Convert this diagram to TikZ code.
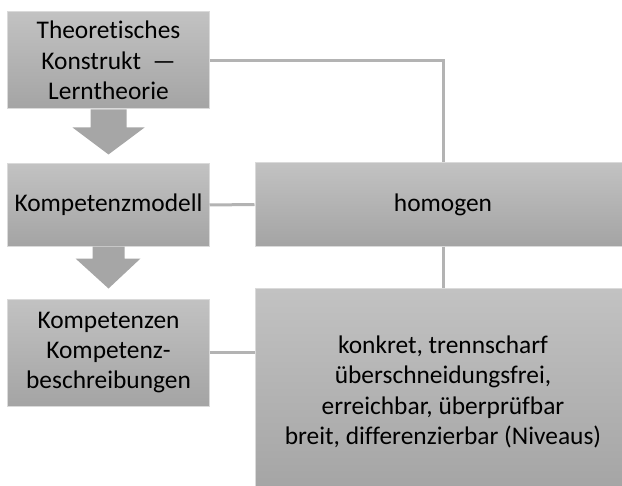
\documentclass[tikz,border=0pt]{standalone}
\usepackage{fontspec}
\setmainfont{Carlito}[Ligatures=NoCommon]
\usetikzlibrary{calc}
\definecolor{boxtop}{HTML}{C2C2C2}
\definecolor{boxbot}{HTML}{A4A4A4}
\definecolor{boxrim}{HTML}{DADADA}
\definecolor{linkgray}{HTML}{B3B3B3}
\definecolor{arrowgray}{HTML}{A6A6A6}
\tikzset{
  card/.style={rectangle, inner sep=0pt, top color=boxtop, bottom color=boxbot,
    draw=boxrim, line width=1bp, align=center, text=black,
    font=\fontsize{25.5}{30.5}\selectfont},
  link/.style={draw=linkgray, line width=3bp},
  blockarrow/.style={fill=arrowgray, draw=none}
}
\begin{document}
\begin{tikzpicture}[x=1bp, y=-1bp]
\clip (0,0) rectangle (622,486);
\fill[white] (0,0) rectangle (622,486);

% left column
\node[card, minimum width=201bp, minimum height=97bp] (theo) at (108.5,60.5)
  {Theoretisches\\Konstrukt\ \ —\\Lerntheorie};
\node[card, minimum width=201bp, minimum height=82bp] (modell) at (108.5,205)
  {Kompetenzmodell};
\node[card, minimum width=201bp, minimum height=107bp] (kompet) at (108.5,352.5)
  {Kompetenzen\\Kompetenz-\\beschreibungen};

% right column
\node[card, minimum width=376bp, minimum height=83bp] (homo) at (443,204.5)
  {homogen};
\node[card, minimum width=376bp, minimum height=206bp] (krit) at (443,392)
  {konkret, trennscharf\\überschneidungsfrei,\\erreichbar, überprüfbar\\breit, differenzierbar (Niveaus)};

% block arrows between the left boxes
\fill[blockarrow]
  ($(theo.south)+(-18,0)$) -- ($(theo.south)+(18,0)$) -- ($(theo.south)+(18,18)$)
  -- ($(theo.south)+(36,18)$) -- ($(modell.north)+(0,-9)$)
  -- ($(theo.south)+(-36,18)$) -- ($(theo.south)+(-18,18)$) -- cycle;
\fill[blockarrow]
  ($(modell.south)+(-16,0)$) -- ($(modell.south)+(16,0)$) -- ($(modell.south)+(16,12)$)
  -- ($(modell.south)+(32,12)$) -- ($(kompet.north)+(0,-10)$)
  -- ($(modell.south)+(-33,12)$) -- ($(modell.south)+(-16,12)$) -- cycle;

% connectors
\draw[link] (theo.east) -| (homo.north);
\draw[link] (modell.east) -- (homo.west);
\draw[link] (homo.south) -- (krit.north);
\draw[link] (kompet.east) -- (krit.west |- kompet.east);
\end{tikzpicture}
\end{document}
